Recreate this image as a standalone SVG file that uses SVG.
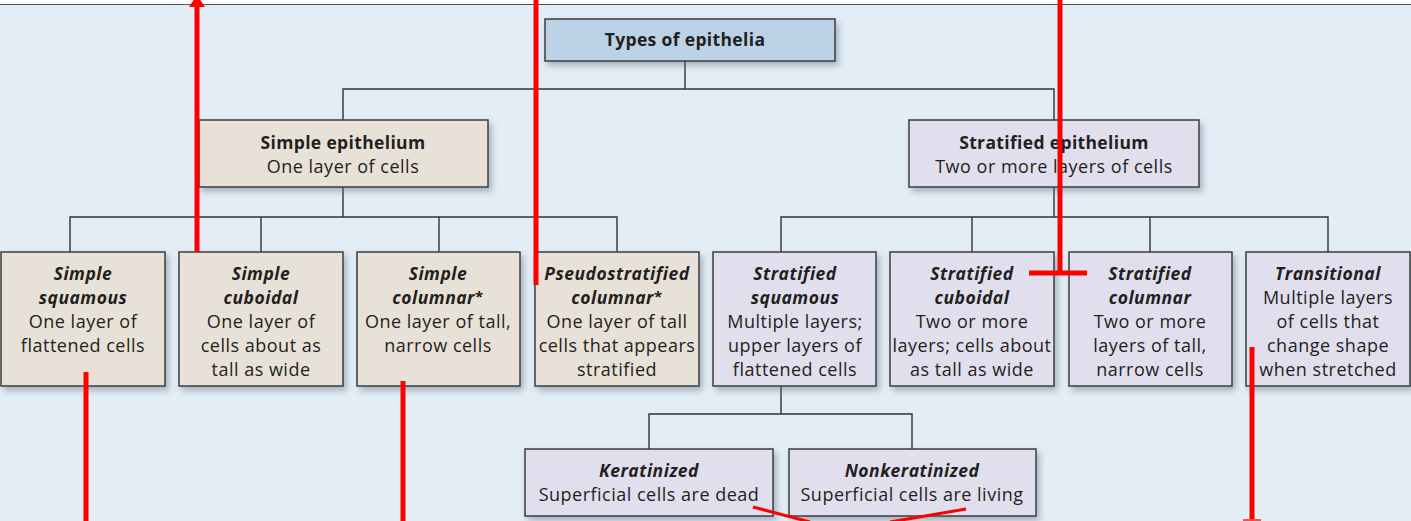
<svg xmlns="http://www.w3.org/2000/svg" width="1411" height="521" viewBox="0 0 1411 521">
<defs>
<filter id="sh" x="-10%" y="-10%" width="130%" height="140%">
<feDropShadow dx="3" dy="4" stdDeviation="3" flood-color="#5d6c7c" flood-opacity="0.45"/>
</filter>
<style>
.box{stroke:#3d3d3f;stroke-width:1.5;filter:url(#sh)}
.top{fill:#bcd2e7}
.tan{fill:#e8e1d8}
.lav{fill:#e1deee}
text{font-family:"Open Sans",Lato,"Liberation Sans",sans-serif;font-size:18px;letter-spacing:0.5px;fill:#231f20;text-anchor:middle}
.b{font-weight:bold;font-size:17.5px;letter-spacing:0.35px}
.bi{font-weight:bold;font-style:italic;font-size:17.5px;letter-spacing:0.5px}
.ast{font-size:15px;font-style:normal}
.conn{fill:none;stroke:#333;stroke-width:1.4}
.red{stroke:#ff0000;stroke-width:5;fill:none}
.redt{stroke:#ff0000;stroke-width:3;fill:none}
</style>
</defs>
<rect x="0" y="0" width="1411" height="521" fill="#e2edf6"/>
<rect x="0" y="0" width="1411" height="4" fill="#ffffff"/>
<line x1="0" y1="4.5" x2="1411" y2="4.5" stroke="#555" stroke-width="1.2"/>

<g id="connectors">
<path class="conn" d="M685,61 V89 M343,120 V89 H1054 V120"/>
<path class="conn" d="M343,187 V217 M70,252 V217 H617 V252 M261,217 V252 M439,217 V252"/>
<path class="conn" d="M1054,187 V217 M781,252 V217 H1328 V252 M972,217 V252 M1150,217 V252"/>
<path class="conn" d="M781,386 V414 M649,449 V414 H912 V449"/>
</g>

<g id="n-types">
<rect class="box top" x="545" y="19" width="290" height="42"/>
<text class="b" x="685" y="46">Types of epithelia</text>
</g>
<g id="n-simple">
<rect class="box tan" x="199" y="120" width="289" height="67"/>
<text class="b" x="343" y="149">Simple epithelium</text>
<text x="343" y="173">One layer of cells</text>
</g>
<g id="n-stratified">
<rect class="box lav" x="909" y="120" width="290" height="67"/>
<text class="b" x="1054" y="149">Stratified epithelium</text>
<text x="1054" y="173">Two or more layers of cells</text>
</g>

<g id="n-simple-squamous">
<rect class="box tan" x="1" y="252" width="164" height="134"/>
<text class="bi" x="83" y="280">Simple</text>
<text class="bi" x="83" y="304">squamous</text>
<text x="83" y="328">One layer of</text>
<text x="83" y="352">flattened cells</text>
</g>
<g id="n-simple-cuboidal">
<rect class="box tan" x="179" y="252" width="164" height="134"/>
<text class="bi" x="261" y="280">Simple</text>
<text class="bi" x="261" y="304">cuboidal</text>
<text x="261" y="328">One layer of</text>
<text x="261" y="352">cells about as</text>
<text x="261" y="376">tall as wide</text>
</g>
<g id="n-simple-columnar">
<rect class="box tan" x="357" y="252" width="163" height="134"/>
<text class="bi" x="438" y="280">Simple</text>
<text class="bi" x="438" y="304">columnar<tspan class="ast" dy="-2">*</tspan></text>
<text x="438" y="328">One layer of tall,</text>
<text x="438" y="352">narrow cells</text>
</g>
<g id="n-pseudostratified">
<rect class="box tan" x="535" y="252" width="164" height="134"/>
<text class="bi" x="617" y="280">Pseudostratified</text>
<text class="bi" x="617" y="304">columnar<tspan class="ast" dy="-2">*</tspan></text>
<text x="617" y="328">One layer of tall</text>
<text x="617" y="352">cells that appears</text>
<text x="617" y="376">stratified</text>
</g>
<g id="n-strat-squamous">
<rect class="box lav" x="713" y="252" width="163" height="134"/>
<text class="bi" x="795" y="280">Stratified</text>
<text class="bi" x="795" y="304">squamous</text>
<text x="795" y="328">Multiple layers;</text>
<text x="795" y="352">upper layers of</text>
<text x="795" y="376">flattened cells</text>
</g>
<g id="n-strat-cuboidal">
<rect class="box lav" x="890" y="252" width="164" height="134"/>
<text class="bi" x="972" y="280">Stratified</text>
<text class="bi" x="972" y="304">cuboidal</text>
<text x="972" y="328">Two or more</text>
<text x="972" y="352">layers; cells about</text>
<text x="972" y="376">as tall as wide</text>
</g>
<g id="n-strat-columnar">
<rect class="box lav" x="1069" y="252" width="163" height="134"/>
<text class="bi" x="1150" y="280">Stratified</text>
<text class="bi" x="1150" y="304">columnar</text>
<text x="1150" y="328">Two or more</text>
<text x="1150" y="352">layers of tall,</text>
<text x="1150" y="376">narrow cells</text>
</g>
<g id="n-transitional">
<rect class="box lav" x="1246" y="252" width="164" height="134"/>
<text class="bi" x="1328" y="280">Transitional</text>
<text x="1328" y="304">Multiple layers</text>
<text x="1328" y="328">of cells that</text>
<text x="1328" y="352">change shape</text>
<text x="1328" y="376">when stretched</text>
</g>
<g id="n-keratinized">
<rect class="box lav" x="525" y="449" width="248" height="67"/>
<text class="bi" x="649" y="477">Keratinized</text>
<text x="649" y="501">Superficial cells are dead</text>
</g>
<g id="n-nonkeratinized">
<rect class="box lav" x="789" y="449" width="247" height="67"/>
<text class="bi" x="912" y="477">Nonkeratinized</text>
<text x="912" y="501">Superficial cells are living</text>
</g>

<g id="annotations">
<line class="red" x1="197" y1="4" x2="197" y2="252"/>
<polygon points="197,-5 189,7 205,7" fill="#ff0000"/>
<line class="red" x1="536" y1="0" x2="536" y2="285"/>
<line class="red" x1="1060" y1="0" x2="1060" y2="273"/>
<line class="red" x1="1029" y1="273" x2="1087" y2="273" stroke-width="6"/>
<line class="red" x1="86" y1="372" x2="86" y2="521"/>
<line class="red" x1="403" y1="381" x2="403" y2="521"/>
<line class="red" x1="1252" y1="347" x2="1252" y2="521"/>
<line x1="1243" y1="520" x2="1261" y2="520" stroke="#ff4d4d" stroke-width="2"/>
<line class="redt" x1="753" y1="507" x2="810" y2="522"/>
<line class="redt" x1="966" y1="509" x2="890" y2="522"/>
</g>
</svg>
